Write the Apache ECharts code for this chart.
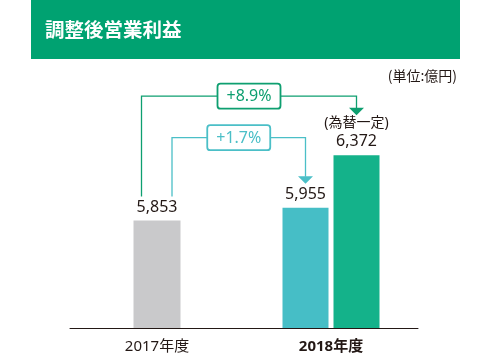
<!DOCTYPE html>
<html><head><meta charset="utf-8">
<script src="https://cdn.jsdelivr.net/npm/echarts@6/dist/echarts.min.js"></script>
<style>html,body{margin:0;padding:0;background:#fff}#c{width:490px;height:356px}</style>
</head><body><div id="c"></div>
<script>
const categories = ['2017年度', '2018年度'];
const values2017 = [5853, '-'];
const values2018 = ['-', 5955];
const values2018ConstFx = ['-', 6372];
const constFxNote = '(為替一定)';
const growthConstFx = '+8.9%';
const growthActual = '+1.7%';
const titleText = '調整後営業利益';
const unitText = '(単位:億円)';

const C_GRAY = '#c9c9cb', C_TEAL = '#46bec6', C_GREEN = '#14b28a';
const L_GREEN = '#0e9f70', L_TEAL = '#4bbfc7';
const TXT = '#231815';
const FONT = "'Noto Sans', 'Noto Sans CJK JP', sans-serif";
const BW = 46, GAP = 5;

function fmt(v) { return Number(v).toLocaleString('en-US'); }

const chart = echarts.init(document.getElementById('c'));
const baseLabel = {
  show: true, position: 'top', distance: 5, fontFamily: FONT, fontSize: 16, color: TXT,
  formatter: p => fmt(p.value)
};
chart.setOption({
  animation: false,
  grid: { left: 70, top: 76, width: 348, height: 252 },
  xAxis: [
    { type: 'category', data: [{ value: categories[0] }, { value: categories[1], textStyle: { fontWeight: 'bold' } }],
      axisLine: { lineStyle: { color: TXT, width: 1 } }, axisTick: { show: false },
      axisLabel: { fontFamily: FONT, fontSize: 15, color: TXT, margin: 11 } },
    { type: 'category', data: categories, show: false }
  ],
  yAxis: { type: 'value', min: 5000, max: 7000, show: false, splitLine: { show: false } },
  series: [
    { type: 'bar', xAxisIndex: 0, data: values2017, barWidth: 47, itemStyle: { color: C_GRAY }, label: baseLabel },
    { type: 'bar', xAxisIndex: 1, data: values2018, barWidth: BW, barGap: (GAP / BW * 100) + '%', itemStyle: { color: C_TEAL }, label: baseLabel },
    { type: 'bar', xAxisIndex: 1, data: values2018ConstFx, barWidth: BW, itemStyle: { color: C_GREEN },
      label: Object.assign({}, baseLabel, {
        formatter: p => '{n|' + constFxNote + '}\n{v|' + fmt(p.value) + '}',
        rich: { n: { fontFamily: FONT, fontSize: 14, color: TXT, lineHeight: 19 },
                v: { fontFamily: FONT, fontSize: 16, color: TXT, lineHeight: 18 } }
      }) }
  ]
});

// Annotation connectors, positioned from the chart's own scales
const pGray = chart.convertToPixel({ xAxisIndex: 0, yAxisIndex: 0 }, [0, values2017[0]]);
const pTeal = chart.convertToPixel({ xAxisIndex: 1, yAxisIndex: 0 }, [1, values2018[1]]);
const pGreen = chart.convertToPixel({ xAxisIndex: 1, yAxisIndex: 0 }, [1, values2018ConstFx[1]]);
const tealX = pTeal[0] - (BW + GAP) / 2;
const greenX = pGreen[0] + (BW + GAP) / 2;
const startY = pGray[1] - 24;

function connector(x0, x1, yH, yTip, color, text) {
  const els = [];
  els.push({ type: 'polyline', shape: { points: [[x0, startY], [x0, yH], [x1, yH], [x1, yTip - 7]] },
    style: { stroke: color, lineWidth: 1.3, fill: null }, z: 10 });
  els.push({ type: 'polygon', shape: { points: [[x1 - 7.5, yTip - 7.5], [x1 + 7.5, yTip - 7.5], [x1, yTip]] },
    style: { fill: color }, z: 10 });
  const cx = (x0 + x1) / 2;
  els.push({ type: 'rect', shape: { x: cx - 31.5, y: yH - 12.5, width: 63, height: 25, r: 3 },
    style: { fill: '#fff', stroke: color, lineWidth: 1.8 }, z: 11 });
  els.push({ type: 'text', x: cx, y: yH + 0.5, style: { text: text, fill: color, font: '16px ' + FONT,
    textAlign: 'center', textVerticalAlign: 'middle' }, z: 12 });
  return els;
}

const graphics = [
  { type: 'rect', shape: { x: 31, y: 0, width: 429, height: 59 }, style: { fill: '#00a271' }, z: 1 },
  { type: 'text', x: 45, y: 30, style: { text: titleText, fill: '#fff', font: "bold 19.5px 'Noto Sans CJK JP', sans-serif",
    textVerticalAlign: 'middle' }, z: 2 },
  { type: 'text', x: 457, y: 76, style: { text: unitText, fill: TXT, font: "14px 'Noto Sans CJK JP', sans-serif",
    textAlign: 'right', textVerticalAlign: 'middle' }, z: 2 }
].concat(
  connector(pGray[0] - 15.5, greenX, pGreen[1] - 59, pGreen[1] - 40, L_GREEN, growthConstFx),
  connector(pGray[0] + 15, tealX, pTeal[1] - 70, pTeal[1] - 24, L_TEAL, growthActual)
);
chart.setOption({ graphic: graphics });
</script></body></html>
